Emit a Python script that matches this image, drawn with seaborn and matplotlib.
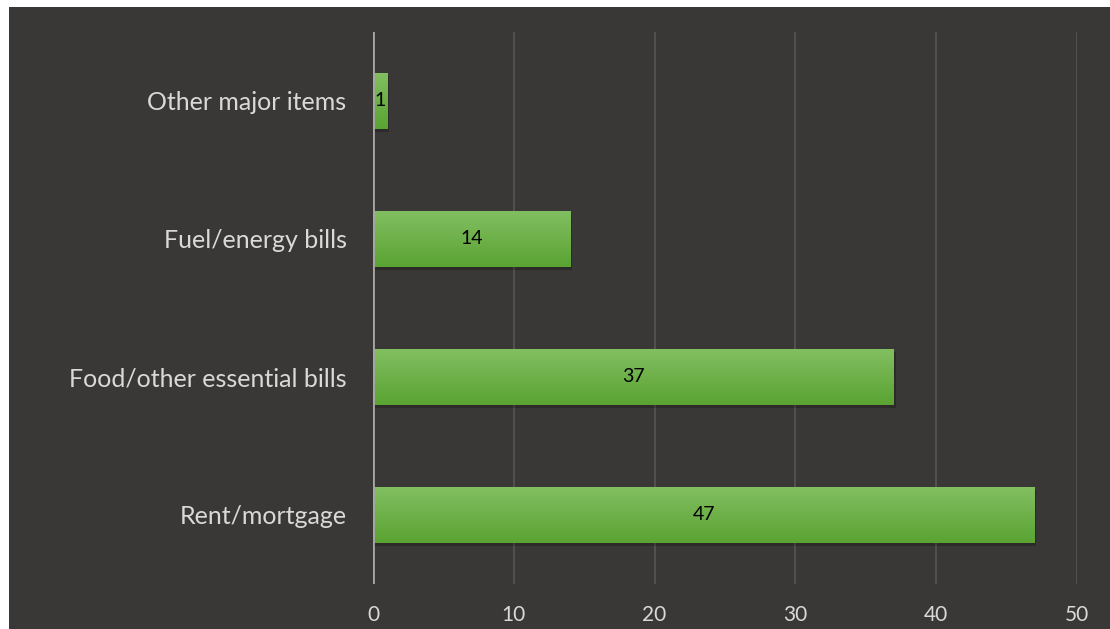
import numpy as np
import pandas as pd
import matplotlib
matplotlib.use("Agg")
import matplotlib.pyplot as plt
import seaborn as sns

categories = ["Other major items", "Fuel/energy bills", "Food/other essential bills", "Rent/mortgage"]
values = [1, 14, 37, 47]
xticks = [0, 10, 20, 30, 40, 50]

sns.set_theme(style="dark")
plt.rcParams['font.family'] = ['Lato', 'DejaVu Sans']

bg = "#3a3836"
fig = plt.figure(figsize=(11.10, 6.29), dpi=100, facecolor="white")
# dark panel
fig.patches.append(plt.Rectangle((9/1110, 0), 1 - 9/1110, 1 - 7/629, transform=fig.transFigure,
                                 facecolor=bg, edgecolor="none", zorder=-10))
ax = fig.add_axes([373/1110, 1 - 584/629, (1077 - 373)/1110, (584 - 32)/629])
ax.set_facecolor(bg)
ax.patch.set_alpha(0)

df = pd.DataFrame({"category": categories, "value": values})
sns.barplot(data=df, x="value", y="category", orient="h", color="#6aaf45", width=0.406,
            ax=ax, zorder=3, saturation=1, linewidth=0, edgecolor="none")

# vertical gradient on bars
grad = np.linspace(0, 1, 256).reshape(-1, 1)
cmap = matplotlib.colors.LinearSegmentedColormap.from_list("g", ["#83bf62", "#5aa332"])
for p in list(ax.patches):
    x0, y0 = p.get_x(), p.get_y()
    w, h = p.get_width(), p.get_height()
    im = ax.imshow(grad, cmap=cmap, aspect="auto", extent=(x0, x0 + w, y0 + h, y0),
                   origin="upper", zorder=4)
    im.set_clip_path(p)
    # subtle shadow
    ax.add_patch(plt.Rectangle((x0 + 0.12, y0 + 0.025), w, h, facecolor="black", alpha=0.22,
                               edgecolor="none", zorder=2))

for i, v in enumerate(values):
    ax.text(v / 2, i, str(v), ha="center", va="center", color="black", fontsize=14, zorder=6)

ax.set_xlim(0, 50)
ax.set_ylim(3.5, -0.5)
ax.set_xticks(xticks)
ax.grid(axis="x", color="#575553", linewidth=1.2, zorder=1)
ax.grid(axis="y", visible=False)
ax.axvline(0, color="#a6a6a6", linewidth=2, zorder=5)
for s in ax.spines.values():
    s.set_visible(False)
ax.tick_params(axis="x", colors="#d9d9d9", labelsize=15, pad=15, length=0)
ax.tick_params(axis="y", colors="#d9d9d9", labelsize=18, pad=19, length=0)
for t in ax.get_xticklabels() + ax.get_yticklabels():
    t.set_color("#d9d9d9")
ax.set_xlabel("")
ax.set_ylabel("")

fig.savefig("out.png", dpi=100, facecolor="white")
